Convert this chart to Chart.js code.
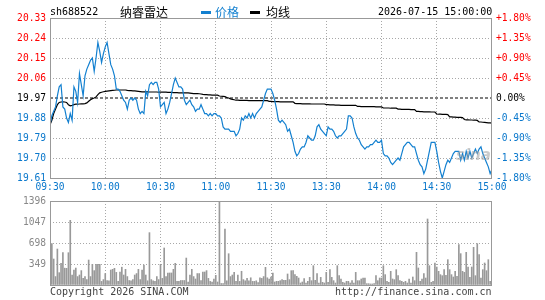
<!DOCTYPE html>
<html><head><meta charset="utf-8">
<script src="https://cdn.jsdelivr.net/npm/chart.js@4/dist/chart.umd.min.js"></script>
<style>
html,body{margin:0;padding:0;background:#fff;}
#wrap{position:relative;width:545px;height:300px;overflow:hidden;background:#fff;}
canvas{position:absolute;left:0;}
#pc{top:0px;}
#vc{top:190px;}
.t{position:absolute;white-space:nowrap;font-family:"DejaVu Sans Mono",monospace;font-size:10px;line-height:12px;}
.c{position:absolute;white-space:nowrap;font-family:"Noto Sans CJK SC",sans-serif;font-size:12px;line-height:14px;}
.sw{position:absolute;height:3px;width:10px;}
</style></head>
<body><div id="wrap">
<canvas id="pc" width="545" height="200"></canvas>
<canvas id="vc" width="545" height="110"></canvas>
<div class="t" style="left:50px;top:6px;color:#000">sh688522</div>
<div class="c" style="left:120px;top:5px;color:#000">纳睿雷达</div>
<div class="sw" style="left:201px;top:11px;background:#1380d0"></div>
<div class="c" style="left:215px;top:5px;color:#1380d0">价格</div>
<div class="sw" style="left:250px;top:11px;background:#000"></div>
<div class="c" style="left:266px;top:5px;color:#000">均线</div>
<div class="t" style="left:378px;top:6px;color:#000">2026-07-15 15:00:00</div>
<div class="t" style="left:456px;top:149px;font-family:'DejaVu Sans',sans-serif;font-size:15px;font-style:italic;font-weight:bold;color:rgba(160,160,160,0.55)">sina</div>
<div class="t" style="left:50px;top:286px;color:#444">Copyright 2026 SINA.COM</div>
<div class="t" style="left:335px;top:286px;color:#444">http://finance.sina.com.cn</div>
</div>
<script>
const prevClose = 19.97;
const timeLabels = ['09:30','10:00','10:30','11:00','11:30','13:30','14:00','14:30','15:00'];
const tickMinutes = [0,30,60,90,120,150,180,210,240];
const priceTicks = [20.33,20.24,20.15,20.06,19.97,19.88,19.79,19.70,19.61];
const pctTicks = [1.8,1.35,0.9,0.45,0,-0.45,-0.9,-1.35,-1.8];
const pctLabels = ['+1.80%','+1.35%','+0.90%','+0.45%','0.00%','-0.45%','-0.90%','-1.35%','-1.80%'];
const volTicks = [0,349,698,1047,1396];

const prices = [
19.85,19.89,19.91,19.93,19.98,20.02,20.03,19.93,19.92,19.88,
19.86,19.90,19.87,20.02,20.00,19.95,20.08,20.03,19.98,20.07,
20.10,20.12,20.14,20.15,20.09,20.15,20.22,20.18,20.13,20.17,
20.20,20.22,20.17,20.12,20.10,20.07,20.01,20.01,20.00,19.98,
19.96,19.95,19.92,19.96,19.97,19.96,19.97,19.96,19.92,19.90,
19.91,19.90,20.00,19.98,20.03,20.04,20.03,20.04,20.04,20.01,
19.93,19.94,19.95,19.90,19.92,19.95,19.99,20.03,20.06,20.04,
20.02,20.02,20.01,19.96,19.94,19.95,19.96,19.94,19.93,19.91,
19.92,19.92,19.94,19.92,19.90,19.90,19.89,19.90,19.89,19.90,
19.90,19.89,19.89,19.88,19.84,19.83,19.83,19.83,19.82,19.82,
19.82,19.80,19.81,19.83,19.88,19.87,19.89,19.88,19.90,19.88,
19.90,19.88,19.90,19.91,19.92,19.93,19.96,19.99,20.01,20.01,
20.01,
19.99,19.96,19.92,19.87,19.86,19.87,19.86,19.85,19.82,19.83,
19.80,19.77,19.73,19.71,19.72,19.74,19.75,19.75,19.77,19.80,
19.79,19.78,19.78,19.80,19.84,19.85,19.83,19.82,19.81,19.80,
19.84,19.83,19.83,19.82,19.80,19.79,19.80,19.80,19.81,19.82,
19.83,19.89,19.89,19.88,19.84,19.81,19.79,19.78,19.76,19.75,
19.74,19.75,19.75,19.76,19.76,19.77,19.78,19.77,19.77,19.78,
19.72,19.71,19.71,19.70,19.68,19.67,19.68,19.69,19.70,19.69,
19.72,19.75,19.76,19.77,19.77,19.76,19.75,19.75,19.72,19.69,
19.67,19.66,19.63,19.65,19.69,19.73,19.77,19.77,19.77,19.73,
19.68,19.64,19.61,19.64,19.67,19.69,19.68,19.70,19.72,19.73,
19.73,19.73,19.69,19.72,19.69,19.73,19.70,19.73,19.70,19.72,
19.74,19.72,19.74,19.75,19.72,19.70,19.68,19.66,19.63,19.65
];

const avgPrices = [
19.850,19.870,19.900,19.920,19.940,19.950,19.952,19.953,19.952,19.950,
19.940,19.935,19.937,19.940,19.942,19.942,19.943,19.944,19.944,19.945,
19.948,19.955,19.962,19.967,19.970,19.975,19.985,19.993,19.996,19.998,
20.000,20.001,20.002,20.003,20.004,20.005,20.006,20.006,20.006,20.006,
20.006,20.006,20.004,20.003,20.003,20.002,20.002,20.001,20.000,19.999,
19.998,19.998,19.998,19.998,19.997,19.997,19.997,19.997,19.997,19.996,
19.996,19.996,19.996,19.996,19.995,19.995,19.995,19.994,19.994,19.994,
19.993,19.993,19.993,19.993,19.993,19.993,19.992,19.991,19.990,19.990,
19.990,19.989,19.988,19.986,19.985,19.985,19.984,19.984,19.983,19.983,
19.983,19.983,19.979,19.978,19.977,19.976,19.972,19.970,19.966,19.964,
19.962,19.960,19.960,19.959,19.959,19.959,19.959,19.959,19.958,19.958,
19.958,19.958,19.958,19.958,19.958,19.958,19.958,19.958,19.958,19.955,
19.955,
19.954,19.954,19.954,19.954,19.953,19.953,19.953,19.953,19.953,19.953,
19.953,19.953,19.946,19.945,19.945,19.945,19.944,19.944,19.944,19.944,
19.944,19.943,19.943,19.943,19.943,19.943,19.943,19.943,19.943,19.940,
19.940,19.939,19.939,19.939,19.938,19.938,19.938,19.937,19.937,19.937,
19.937,19.937,19.937,19.937,19.937,19.937,19.932,19.932,19.931,19.931,
19.931,19.931,19.931,19.931,19.931,19.931,19.930,19.930,19.930,19.930,
19.925,19.925,19.925,19.925,19.924,19.924,19.924,19.924,19.920,19.920,
19.919,19.919,19.919,19.919,19.919,19.918,19.918,19.918,19.910,19.910,
19.909,19.909,19.908,19.908,19.908,19.908,19.907,19.907,19.907,19.898,
19.897,19.897,19.896,19.896,19.896,19.895,19.885,19.885,19.884,19.884,
19.883,19.883,19.883,19.882,19.873,19.872,19.872,19.871,19.871,19.870,
19.870,19.869,19.862,19.862,19.861,19.860,19.859,19.858,19.858,19.857
];

const volumes = [
650,690,432,140,598,205,360,537,280,277,
537,1075,166,249,282,140,166,239,110,140,
90,415,140,344,239,344,344,344,60,90,
190,75,70,249,260,277,210,60,216,296,
166,260,140,75,70,90,166,190,260,90,
249,332,166,70,870,90,70,60,140,90,
344,110,615,140,200,200,200,260,360,60,
60,75,75,75,448,50,166,260,140,100,
190,190,75,216,216,239,110,60,50,100,
160,50,1396,25,25,930,70,520,140,166,
210,60,166,60,228,90,70,110,70,120,
60,60,70,40,120,110,140,294,120,100,
130,
199,50,61,61,72,89,78,78,183,89,
238,238,172,144,116,33,50,105,33,61,
127,72,321,78,188,33,127,44,33,210,
44,255,127,72,33,321,155,100,44,33,
61,61,33,72,33,210,72,72,100,116,
116,22,22,17,17,22,155,72,116,116,
321,172,61,44,227,100,89,255,155,72,
61,44,61,33,100,33,133,72,543,283,
61,100,188,116,1097,321,44,61,366,299,
227,172,155,255,161,421,255,172,133,227,
144,670,521,227,210,543,299,127,299,626,
155,687,504,116,255,366,238,421,60,80
];

const BLUE_TXT = '#0a78cc', BLUE_LINE = '#1380d0', RED = '#ff0000', GRID = '#a8a8a8', FRAME = '#999999';
Chart.defaults.font.family = '"DejaVu Sans Mono", monospace';
Chart.defaults.font.size = 9.6;

const frame = {
  id: 'frame',
  afterDraw(chart) {
    const a = chart.chartArea, c = chart.ctx;
    c.save(); c.strokeStyle = FRAME; c.lineWidth = 1;
    c.strokeRect(a.left + 0.5, a.top + 0.5, a.right - a.left - 1, a.bottom - a.top);
    c.restore();
  }
};

const priceColor = v => Math.abs(v - prevClose) < 1e-6 ? '#000' : (v > prevClose ? RED : BLUE_TXT);
const pctColor = v => Math.abs(v) < 1e-6 ? '#000' : (v > 0 ? RED : BLUE_TXT);

new Chart(document.getElementById('pc'), {
  type: 'line',
  data: {
    datasets: [
      { data: prices.map((p, i) => ({x: i, y: p})), borderColor: BLUE_LINE, borderWidth: 1.2, pointRadius: 0, tension: 0, order: 1 },
      { data: avgPrices.map((p, i) => ({x: i, y: p})), borderColor: '#000', borderWidth: 1.2, pointRadius: 0, tension: 0, order: 2 },
      { data: [{x: tickMinutes[0], y: prevClose}, {x: tickMinutes[tickMinutes.length-1], y: prevClose}], borderColor: '#000', borderWidth: 1, borderDash: [3,2], pointRadius: 0, order: 3 }
    ]
  },
  options: {
    responsive: false, animation: false, devicePixelRatio: 1,
    layout: { padding: { top: 18, left: 0, right: 0, bottom: 0 } },
    plugins: { legend: { display: false }, tooltip: { enabled: false } },
    scales: {
      x: {
        type: 'linear', min: 0, max: 240,
        afterBuildTicks: s => { s.ticks = tickMinutes.map(v => ({value: v})); },
        afterFit: s => { s.height = 22; },
        ticks: { color: BLUE_TXT, padding: 4, maxRotation: 0, autoSkip: false, callback: (v, i) => timeLabels[i] },
        grid: { drawTicks: false, color: c => (c.tick && (c.tick.value === 0 || c.tick.value === 240)) ? 'rgba(0,0,0,0)' : GRID },
        border: { display: false, dash: [1,2] }
      },
      y: {
        position: 'left', min: 19.61, max: 20.33,
        afterBuildTicks: s => { s.ticks = priceTicks.map(v => ({value: v})); },
        afterFit: s => { s.width = 50; },
        ticks: { padding: 4, autoSkip: false, callback: v => Number(v).toFixed(2), color: c => priceColor(c.tick.value) },
        grid: { drawTicks: false, color: c => (c.tick && (Math.abs(c.tick.value - prevClose) < 1e-6 || Math.abs(c.tick.value - 20.33) < 1e-6 || Math.abs(c.tick.value - 19.61) < 1e-6)) ? 'rgba(0,0,0,0)' : GRID },
        border: { display: false, dash: [1,2] }
      },
      y2: {
        position: 'right', min: -1.8, max: 1.8,
        afterBuildTicks: s => { s.ticks = pctTicks.map(v => ({value: v})); },
        afterFit: s => { s.width = 53; },
        ticks: { padding: 4, autoSkip: false, callback: (v, i) => pctLabels[i], color: c => pctColor(c.tick.value) },
        grid: { display: false, drawTicks: false },
        border: { display: false }
      }
    }
  },
  plugins: [frame]
});

new Chart(document.getElementById('vc'), {
  type: 'bar',
  data: {
    datasets: [{ data: volumes.map((v, i) => ({x: i, y: v})), backgroundColor: '#999999', barThickness: 1, grouped: false }]
  },
  options: {
    responsive: false, animation: false, devicePixelRatio: 1,
    layout: { padding: { top: 11, left: 0, right: 53, bottom: 0 } },
    plugins: { legend: { display: false }, tooltip: { enabled: false } },
    scales: {
      x: {
        type: 'linear', min: 0, max: 240, offset: false,
        afterBuildTicks: s => { s.ticks = tickMinutes.map(v => ({value: v})); },
        afterFit: s => { s.height = 15; },
        ticks: { display: false },
        grid: { drawTicks: false, offset: false, color: c => (c.tick && (c.tick.value === 0 || c.tick.value === 240)) ? 'rgba(0,0,0,0)' : GRID },
        border: { display: false, dash: [1,2] }
      },
      y: {
        position: 'left', min: 0, max: volTicks[volTicks.length-1],
        afterBuildTicks: s => { s.ticks = volTicks.map(v => ({value: v})); },
        afterFit: s => { s.width = 50; },
        ticks: { padding: 4, color: '#888', autoSkip: false, callback: v => v === 0 ? '' : String(v) },
        grid: { drawTicks: false, color: c => (c.tick && (c.tick.value === 0 || c.tick.value === 1396)) ? 'rgba(0,0,0,0)' : GRID },
        border: { display: false, dash: [1,2] }
      }
    }
  },
  plugins: [frame]
});
</script>
</body></html>
